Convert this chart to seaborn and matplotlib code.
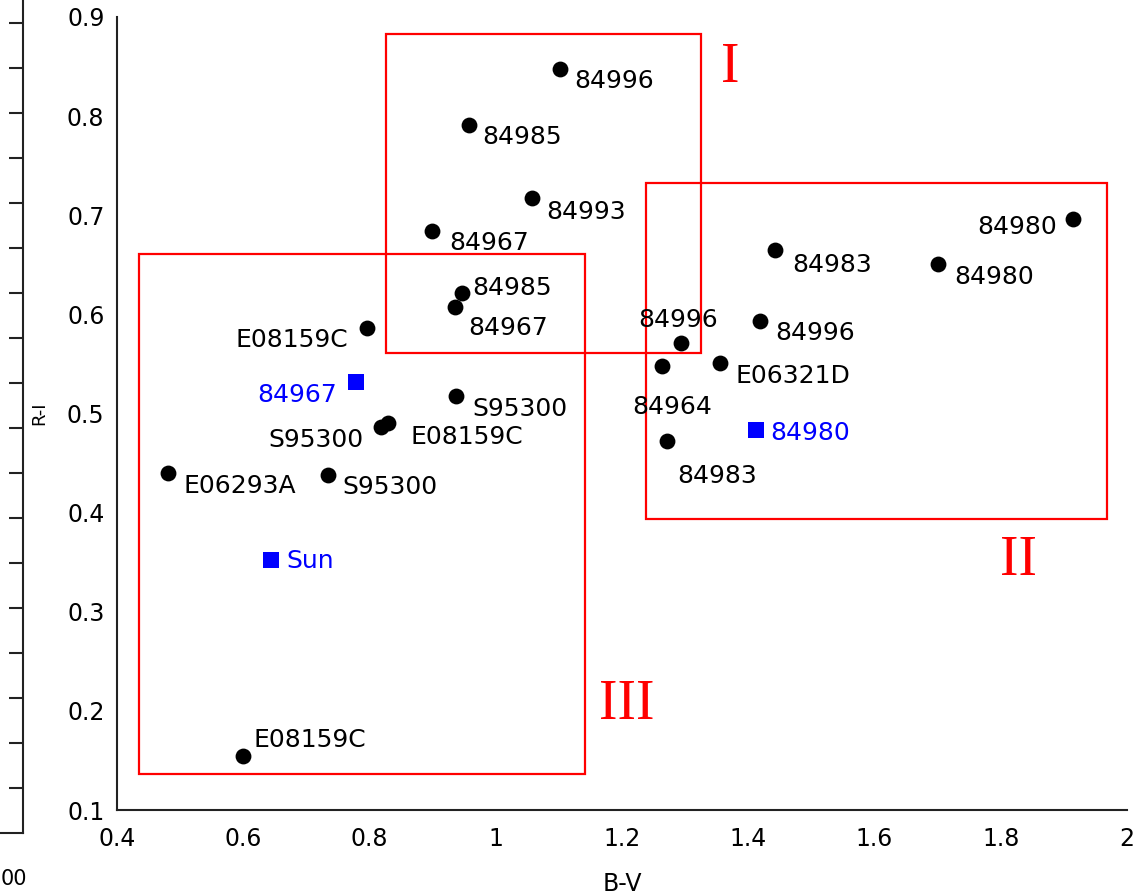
import pandas as pd
import seaborn as sns
import matplotlib.pyplot as plt
from matplotlib.patches import Rectangle

# observed stars (black dots)
names = ['84996', '84985', '84993', '84967', '84985', '84967', 'E08159C', 'S95300',
         'S95300', 'E08159C', 'E06293A', 'S95300', 'E08159C', '84996', '84964',
         'E06321D', '84996', '84983', '84980', '84980', '84983']
bv = [1.101, 0.957, 1.057, 0.899, 0.946, 0.935, 0.796, 0.937, 0.818, 0.829, 0.481,
      0.734, 0.600, 1.293, 1.263, 1.355, 1.418, 1.442, 1.700, 1.914, 1.271]
ri = [0.848, 0.791, 0.717, 0.684, 0.622, 0.607, 0.586, 0.518, 0.486, 0.490, 0.440,
      0.438, 0.154, 0.571, 0.548, 0.551, 0.593, 0.665, 0.651, 0.696, 0.472]

# reference objects (blue squares)
ref_names = ['84967', '84980', 'Sun']
ref_bv = [0.778, 1.413, 0.644]
ref_ri = [0.532, 0.483, 0.352]

# groups I, II, III
box_labels = ['I', 'II', 'III']
box_bv_min = [0.826, 1.238, 0.435]
box_bv_max = [1.325, 1.969, 1.141]
box_ri_min = [0.561, 0.394, 0.136]
box_ri_max = [0.883, 0.733, 0.661]
box_label_bv = [1.372, 1.828, 1.208]
box_label_ri = [0.849, 0.351, 0.206]

# label placement (pixels from the point, alignment)
offsets = [(15, -12, 'left'), (14, -12, 'left'), (15, -14, 'left'), (17, -12, 'left'),
           (11, 5, 'left'), (14, -21, 'left'), (-19, -12, 'right'), (16, -13, 'left'),
           (-17, -13, 'right'), (23, -14, 'left'), (15, -13, 'left'), (15, -12, 'left'),
           (10, 16, 'left'), (-3, 23, 'center'), (10, -41, 'center'), (16, -13, 'left'),
           (16, -12, 'left'), (17, -15, 'left'), (17, -13, 'left'), (-16, -8, 'right'),
           (10, -35, 'left')]
ref_offsets = [(-19, -13, 'right'), (14, -3, 'left'), (15, -1, 'left')]

sns.set_style('white')
plt.rcParams['font.family'] = ['DejaVu Sans']

df = pd.DataFrame({'B-V': bv, 'R-I': ri, 'name': names})
df_ref = pd.DataFrame({'B-V': ref_bv, 'R-I': ref_ri, 'name': ref_names})

fig = plt.figure(figsize=(11.38, 8.96), dpi=100)

# neighbouring panel, only its right edge is visible
ax0 = fig.add_axes([0.0202 - 0.3, 1 - 833 / 896, 0.3, 900 / 896])
ax0.set_xlim(0, 1)
ax0.set_ylim(0, 20)
for s in ['top', 'left']:
    ax0.spines[s].set_visible(False)
for s in ['right', 'bottom']:
    ax0.spines[s].set_linewidth(1.5)
    ax0.spines[s].set_color('#222222')
ax0.set_yticks(range(1, 20))
ax0.tick_params(axis='y', left=False, right=True, labelleft=False, direction='in',
                length=10, width=1.5, color='#222222')
ax0.set_xticks([0.972])
ax0.set_xticklabels(['00'])
ax0.tick_params(axis='x', length=0, pad=26, labelsize=15, labelcolor='black')

ax = fig.add_axes([117 / 1138, 1 - 810 / 896, 1010 / 1138, 793 / 896])

sns.scatterplot(data=df, x='B-V', y='R-I', ax=ax, color='black', marker='o',
                s=130, edgecolor='black', linewidth=0, zorder=3)
sns.scatterplot(data=df_ref, x='B-V', y='R-I', ax=ax, color='#0000ff', marker='s',
                s=120, edgecolor='#0000ff', linewidth=0, zorder=3)

for (n, x, y), (dx, dy, ha) in zip(zip(names, bv, ri), offsets):
    ax.annotate(n, (x, y), xytext=(dx, dy), textcoords='offset pixels',
                ha=ha, va='center', fontsize=18, color='black')
for (n, x, y), (dx, dy, ha) in zip(zip(ref_names, ref_bv, ref_ri), ref_offsets):
    ax.annotate(n, (x, y), xytext=(dx, dy), textcoords='offset pixels',
                ha=ha, va='center', fontsize=18, color='#0000ff')

for i, lab in enumerate(box_labels):
    ax.add_patch(Rectangle((box_bv_min[i], box_ri_min[i]),
                           box_bv_max[i] - box_bv_min[i],
                           box_ri_max[i] - box_ri_min[i],
                           fill=False, edgecolor='#ff0000', linewidth=1.6, zorder=2))
    ax.text(box_label_bv[i], box_label_ri[i], lab, color='#ff0000',
            fontsize=40, family='Liberation Serif', ha='center', va='center')

ax.set_xlim(0.4, 2.0)
ax.set_ylim(0.1, 0.9)
xt = [0.4, 0.6, 0.8, 1.0, 1.2, 1.4, 1.6, 1.8, 2.0]
ax.set_xticks(xt)
ax.set_xticklabels(['0.4', '0.6', '0.8', '1', '1.2', '1.4', '1.6', '1.8', '2'])
yt = [0.1, 0.2, 0.3, 0.4, 0.5, 0.6, 0.7, 0.8, 0.9]
ax.set_yticks(yt)
ax.set_yticklabels(['0.1', '0.2', '0.3', '0.4', '0.5', '0.6', '0.7', '0.8', '0.9'])
ax.tick_params(axis='both', direction='in', length=10, width=1.5, color='#222222',
               labelsize=17, labelcolor='black')
ax.tick_params(axis='x', pad=12)
ax.tick_params(axis='y', pad=9)
for s in ['top', 'right']:
    ax.spines[s].set_visible(False)
for s in ['left', 'bottom']:
    ax.spines[s].set_linewidth(1.5)
    ax.spines[s].set_color('#222222')

ax.set_xlabel('B-V', fontsize=17, color='black')
ax.xaxis.set_label_coords(0.5, -0.078)
ax.set_ylabel('R-I', fontsize=13, color='black')
ax.yaxis.set_label_coords(-0.068, 0.5)

fig.savefig('out.png', dpi=100)
